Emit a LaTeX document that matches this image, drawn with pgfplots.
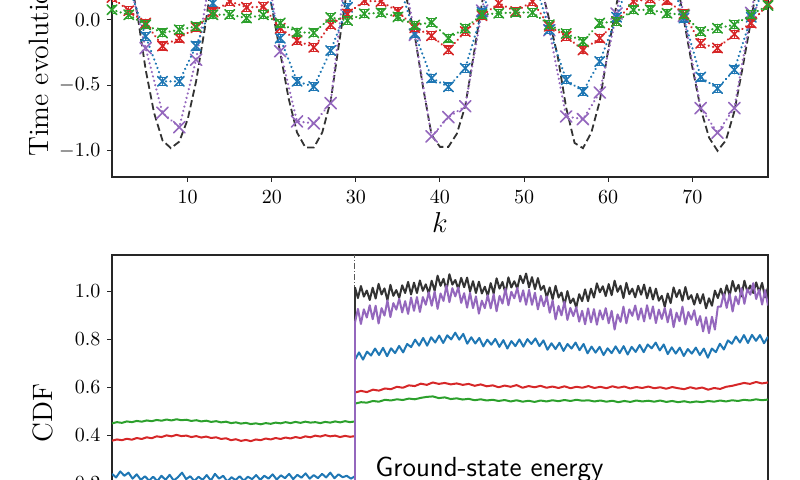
\documentclass[border=0pt]{standalone}
\usepackage{pgfplots}
\usepackage{pgfplotstable}
\pgfplotsset{compat=1.18}

\definecolor{tabblue}{HTML}{1F77B4}
\definecolor{tabred}{HTML}{D62728}
\definecolor{tabgreen}{HTML}{2CA02C}
\definecolor{tabpurple}{HTML}{9467BD}
\definecolor{exactgray}{HTML}{333333}

\pgfplotsset{
  panel/.style={
    scale only axis, width=328pt,
    tick align=outside, tick pos=left, major tick length=2.3pt,
    axis line style={line width=0.65pt, black!85},
    every tick/.style={black!85, line width=0.5pt},
    ticklabel style={font=\fontsize{9.8}{11}\selectfont, black},
    yticklabel style={/pgf/number format/.cd, fixed, fixed zerofill, precision=1},
  },
  tev/.style={line width=1.2pt, line cap=round, dash pattern=on 0.05pt off 2.2pt,
    mark=x, mark options={solid, line width=0.8pt}},
  tevbars/.style={error bars/.cd, y dir=both, y explicit,
    error bar style={solid, line width=0.6pt},
    error mark options={solid, rotate=90, mark size=2pt, line width=0.6pt}},
  cdf/.style={line width=1pt, line join=round},
}

\begin{document}
\begin{tikzpicture}
% ---------- time evolution: odd k, value, error ----------
\pgfplotstableread{
k y e
1 0.076 0.03
3 0.038 0.03
5 -0.038 0.03
7 -0.100 0.03
9 -0.076 0.03
11 -0.050 0.03
13 0.038 0.03
15 0.040 0.03
17 0.013 0.03
19 0.038 0.03
21 -0.025 0.03
23 -0.094 0.03
25 -0.100 0.03
27 0.018 0.03
29 -0.005 0.03
31 0.046 0.03
33 0.053 0.03
35 0.022 0.03
37 -0.040 0.03
39 -0.020 0.03
41 -0.140 0.03
43 -0.064 0.03
45 0.040 0.03
47 0.050 0.03
49 0.056 0.03
51 0.056 0.03
53 -0.038 0.03
55 -0.105 0.03
57 -0.165 0.03
59 -0.025 0.03
61 -0.013 0.03
63 0.076 0.03
65 0.076 0.03
67 0.050 0.03
69 0.038 0.03
71 -0.090 0.03
73 -0.064 0.03
75 -0.038 0.03
77 0.038 0.03
79 0.110 0.03
}\greenT
\pgfplotstableread{
k y e
1 0.170 0.03
3 0.070 0.03
5 -0.025 0.03
7 -0.200 0.03
9 -0.140 0.03
11 -0.060 0.03
13 0.060 0.03
15 0.140 0.03
17 0.095 0.03
19 0.100 0.03
21 -0.064 0.03
23 -0.158 0.03
25 -0.210 0.03
27 -0.038 0.03
29 0.045 0.03
31 0.145 0.03
33 0.140 0.03
35 0.064 0.03
37 -0.060 0.03
39 -0.122 0.03
41 -0.230 0.03
43 -0.090 0.03
45 0.030 0.03
47 0.127 0.03
49 0.064 0.03
51 0.140 0.03
53 -0.050 0.03
55 -0.127 0.03
57 -0.230 0.03
59 -0.140 0.03
61 -0.013 0.03
63 0.140 0.03
65 0.160 0.03
67 0.150 0.03
69 0.045 0.03
71 -0.180 0.03
73 -0.216 0.03
75 -0.110 0.03
77 -0.025 0.03
79 0.120 0.03
}\redT
\pgfplotstableread{
k y e
1 0.450 0.03
3 0.260 0.03
5 -0.127 0.03
7 -0.470 0.03
9 -0.470 0.03
11 -0.200 0.03
13 0.127 0.03
15 0.400 0.03
17 0.450 0.03
19 0.350 0.03
21 -0.140 0.03
23 -0.470 0.03
25 -0.510 0.03
27 -0.235 0.03
29 0.095 0.03
31 0.400 0.03
33 0.450 0.03
35 0.300 0.03
37 -0.105 0.03
39 -0.445 0.03
41 -0.512 0.03
43 -0.370 0.03
45 0.057 0.03
47 0.400 0.03
49 0.450 0.03
51 0.350 0.03
53 -0.076 0.03
55 -0.458 0.03
57 -0.547 0.03
59 -0.318 0.03
61 0.020 0.03
63 0.400 0.03
65 0.450 0.03
67 0.400 0.03
69 0.013 0.03
71 -0.437 0.03
73 -0.525 0.03
75 -0.382 0.03
77 0.020 0.03
79 0.300 0.03
}\blueT
\pgfplotstableread{
k y
1 0.800
3 0.310
5 -0.216
7 -0.710
9 -0.820
11 -0.305
13 0.450
15 0.850
17 0.900
19 0.600
21 -0.240
23 -0.776
25 -0.790
27 -0.636
29 0.490
31 0.850
33 0.950
35 0.600
37 -0.115
39 -0.890
41 -0.743
43 -0.660
45 0.070
47 0.750
49 0.950
51 0.750
53 -0.080
55 -0.738
57 -0.758
59 -0.555
61 0.048
63 0.750
65 0.950
67 0.700
69 0.030
71 -0.674
73 -0.862
75 -0.674
77 0.053
79 0.700
}\purpleT
\pgfplotstableread{
k y
1 0.90
2 0.68
3 0.36
4 0.05
5 -0.38
6 -0.71
7 -0.92
8 -0.98
9 -0.93
10 -0.76
11 -0.47
12 -0.08
13 0.35
14 0.68
15 0.91
16 1.00
17 0.94
18 0.74
19 0.45
20 0.10
21 -0.25
22 -0.60
23 -0.86
24 -0.975
25 -0.975
26 -0.86
27 -0.62
28 -0.18
29 0.25
30 0.60
31 0.86
32 0.99
33 0.97
34 0.81
35 0.55
36 0.17
37 -0.12
38 -0.52
39 -0.88
40 -0.97
41 -0.97
42 -0.87
43 -0.66
44 -0.27
45 0.13
46 0.50
47 0.81
48 0.97
49 0.99
50 0.86
51 0.60
52 0.26
53 0.00
54 -0.28
55 -0.67
56 -0.94
57 -0.98
58 -0.86
59 -0.62
60 -0.23
61 0.12
62 0.45
63 0.75
64 0.94
65 1.00
66 0.91
67 0.68
68 0.35
69 0.00
70 -0.36
71 -0.68
72 -0.90
73 -1.00
74 -0.92
75 -0.70
76 -0.36
77 0.00
78 0.38
79 0.70
}\exactT
% ---------- CDF: below the ground-state energy ----------
\pgfplotstableread[row sep=\\]{y\\
0.02\\0.04\\0.01\\0.03\\0.05\\0.02\\0.04\\0.01\\0.03\\0.02\\0.04\\0.03\\}\blackL
\pgfplotstableread[row sep=\\]{y\\
0.01\\0.03\\0.00\\0.02\\0.04\\0.01\\0.03\\0.00\\0.02\\0.01\\0.03\\0.02\\}\purpleL
\pgfplotstableread[row sep=\\]{y\\
0.240\\0.225\\0.250\\0.232\\0.245\\0.220\\0.238\\0.215\\0.230\\0.212\\
0.228\\0.210\\0.232\\0.215\\0.236\\0.212\\0.226\\0.245\\0.218\\0.230\\
0.210\\0.228\\0.215\\0.235\\0.212\\0.240\\0.220\\0.232\\0.208\\0.226\\
0.214\\0.230\\0.212\\0.228\\0.218\\0.235\\0.215\\0.232\\0.220\\0.238\\
0.216\\0.234\\0.222\\0.240\\0.218\\0.236\\0.224\\0.242\\0.220\\0.235\\
0.222\\0.240\\0.225\\0.245\\0.222\\0.238\\0.226\\0.232\\0.220\\0.230\\}\blueL
\pgfplotstableread[row sep=\\]{y\\
0.378\\0.383\\0.380\\0.386\\0.382\\0.389\\0.385\\0.392\\0.388\\0.396\\
0.393\\0.400\\0.396\\0.402\\0.397\\0.399\\0.393\\0.397\\0.391\\0.395\\
0.389\\0.392\\0.385\\0.388\\0.380\\0.384\\0.377\\0.381\\0.376\\0.383\\
0.380\\0.387\\0.383\\0.389\\0.385\\0.391\\0.387\\0.393\\0.389\\0.396\\
0.392\\0.399\\0.395\\0.401\\0.396\\0.399\\0.393\\0.398\\0.394\\0.397\\}\redL
\pgfplotstableread[row sep=\\]{y\\
0.450\\0.455\\0.452\\0.458\\0.455\\0.460\\0.457\\0.462\\0.459\\0.464\\
0.461\\0.466\\0.462\\0.467\\0.463\\0.465\\0.460\\0.463\\0.458\\0.461\\
0.456\\0.459\\0.454\\0.457\\0.451\\0.454\\0.449\\0.452\\0.447\\0.450\\
0.446\\0.451\\0.448\\0.453\\0.450\\0.455\\0.451\\0.456\\0.452\\0.457\\
0.453\\0.455\\0.451\\0.456\\0.453\\0.458\\0.454\\0.459\\0.455\\0.458\\}\greenL
% ---------- CDF: above the ground-state energy ----------
\pgfplotstableread[row sep=\\]{y\\
1.015\\0.971\\1.021\\0.977\\1.002\\0.963\\1.014\\0.969\\1.030\\0.986\\
1.011\\0.962\\1.026\\0.980\\1.004\\0.972\\1.024\\0.992\\1.038\\0.986\\
1.035\\0.992\\1.044\\1.001\\1.028\\0.990\\1.043\\1.001\\1.064\\1.022\\
1.051\\1.004\\1.070\\1.027\\1.046\\1.009\\1.055\\1.016\\1.056\\0.998\\
1.041\\0.992\\1.039\\0.990\\1.018\\0.980\\1.033\\0.990\\1.053\\1.010\\
1.038\\0.991\\1.057\\1.015\\1.041\\1.011\\1.064\\1.033\\1.073\\1.015\\
1.058\\1.008\\1.054\\1.005\\1.022\\0.973\\1.015\\0.966\\1.022\\0.973\\
0.994\\0.941\\1.000\\0.950\\0.969\\0.932\\0.987\\0.958\\1.007\\0.958\\
1.010\\0.973\\1.032\\0.995\\1.020\\0.979\\1.029\\0.983\\1.043\\0.997\\
1.022\\0.971\\1.034\\0.987\\1.010\\0.974\\1.022\\0.985\\1.027\\0.970\\
1.015\\0.965\\1.010\\0.960\\0.980\\0.935\\0.990\\0.950\\1.015\\0.975\\
1.005\\0.960\\1.017\\0.966\\0.983\\0.944\\0.988\\0.949\\0.987\\0.928\\
0.970\\0.939\\1.002\\0.971\\1.010\\0.972\\1.024\\0.980\\1.042\\0.999\\
1.026\\0.978\\1.043\\0.998\\1.023\\0.992\\1.036\\0.996\\1.034\\0.974\\
1.015\\}\blackR
\pgfplotstableread[row sep=\\]{y\\
0.870\\0.926\\0.863\\0.924\\0.890\\0.941\\0.883\\0.939\\0.865\\0.929\\
0.898\\0.961\\0.892\\0.950\\0.923\\0.968\\0.911\\0.958\\0.905\\0.973\\
0.918\\0.975\\0.913\\0.975\\0.943\\0.995\\0.939\\0.998\\0.926\\0.990\\
0.959\\1.023\\0.954\\1.012\\0.978\\1.015\\0.951\\0.991\\0.931\\0.993\\
0.929\\0.978\\0.906\\0.960\\0.929\\0.983\\0.928\\0.987\\0.916\\0.980\\
0.948\\1.010\\0.941\\0.997\\0.970\\1.013\\0.956\\1.003\\0.943\\1.005\\
0.943\\0.993\\0.924\\0.980\\0.937\\0.978\\0.910\\0.961\\0.882\\0.938\\
0.899\\0.956\\0.880\\0.930\\0.896\\0.933\\0.873\\0.918\\0.862\\0.928\\
0.870\\0.925\\0.860\\0.920\\0.882\\0.929\\0.866\\0.918\\0.840\\0.903\\
0.872\\0.935\\0.866\\0.924\\0.897\\0.940\\0.881\\0.928\\0.874\\0.941\\
0.885\\0.936\\0.867\\0.923\\0.884\\0.930\\0.870\\0.925\\0.850\\0.910\\
0.875\\0.935\\0.861\\0.913\\0.881\\0.920\\0.858\\0.896\\0.832\\0.891\\
0.825\\0.893\\0.840\\0.935\\0.935\\0.988\\0.930\\0.988\\0.915\\0.978\\
0.945\\1.012\\0.947\\1.008\\0.985\\1.033\\0.967\\1.006\\0.944\\1.004\\
0.940\\}\purpleR
\pgfplotstableread[row sep=\\]{y\\
0.715\\0.745\\0.715\\0.748\\0.732\\0.761\\0.734\\0.764\\0.729\\0.762\\
0.742\\0.772\\0.745\\0.780\\0.767\\0.798\\0.773\\0.805\\0.773\\0.808\\
0.786\\0.815\\0.784\\0.816\\0.799\\0.827\\0.798\\0.822\\0.781\\0.808\\
0.782\\0.805\\0.770\\0.798\\0.777\\0.801\\0.768\\0.796\\0.761\\0.792\\
0.771\\0.799\\0.769\\0.800\\0.780\\0.803\\0.771\\0.795\\0.756\\0.783\\
0.759\\0.785\\0.751\\0.780\\0.761\\0.786\\0.754\\0.780\\0.741\\0.769\\
0.744\\0.768\\0.734\\0.762\\0.742\\0.770\\0.742\\0.771\\0.736\\0.768\\
0.747\\0.776\\0.746\\0.778\\0.762\\0.786\\0.753\\0.778\\0.738\\0.766\\
0.740\\0.765\\0.730\\0.759\\0.740\\0.765\\0.734\\0.761\\0.723\\0.761\\
0.746\\0.781\\0.757\\0.795\\0.781\\0.811\\0.786\\0.817\\0.784\\0.818\\
0.793\\0.817\\0.783\\0.810\\}\blueR
\pgfplotstableread[row sep=\\]{y\\
0.578\\0.585\\0.580\\0.590\\0.586\\0.595\\0.592\\
0.602\\0.598\\0.608\\0.605\\0.615\\0.610\\
0.620\\0.614\\0.618\\0.612\\0.616\\0.610\\
0.614\\0.606\\0.612\\0.604\\0.608\\
0.600\\0.607\\0.602\\0.609\\0.598\\0.605\\0.600\\0.606\\0.598\\
0.603\\0.597\\0.604\\0.596\\0.602\\0.598\\0.605\\0.597\\
0.602\\0.596\\0.604\\0.598\\0.603\\0.595\\0.601\\0.597\\
0.603\\0.596\\0.600\\0.594\\0.601\\0.596\\
0.592\\0.600\\0.594\\0.599\\0.590\\0.597\\
0.593\\0.602\\0.606\\
0.612\\0.618\\0.614\\
0.622\\0.616\\0.620\\}\redR
\pgfplotstableread[row sep=\\]{y\\
0.532\\0.538\\0.536\\0.543\\0.540\\0.548\\0.545\\
0.550\\0.547\\0.553\\0.550\\0.556\\0.560\\
0.562\\0.555\\0.558\\0.551\\0.554\\0.549\\
0.552\\0.546\\0.550\\0.545\\0.548\\
0.543\\0.547\\0.541\\0.546\\0.540\\0.544\\0.539\\0.545\\0.541\\
0.546\\0.542\\0.547\\0.543\\0.548\\0.544\\0.546\\0.541\\
0.545\\0.540\\0.544\\0.538\\0.543\\0.539\\0.545\\0.541\\
0.544\\0.540\\0.545\\0.539\\0.543\\0.538\\
0.542\\0.537\\0.541\\0.538\\0.543\\0.540\\
0.545\\0.541\\0.546\\
0.543\\0.548\\0.545\\
0.550\\0.546\\0.549\\}\greenR

% upper panel: time evolution
\begin{axis}[panel, at={(56pt,-88.5pt)}, anchor=south west, height=157.2pt,
  xmin=1, xmax=79, ymin=-1.2, ymax=1.2, clip mode=individual,
  xtick={10,20,...,70}, ytick={-1,-0.5,0,0.5,1},
  xticklabel style={yshift=-1pt}]
  \addplot[exactgray, line width=0.9pt, dash pattern=on 3.6pt off 1.8pt] table[x=k, y=y] {\exactT};
  \addplot[tabpurple, tev, mark size=4pt] table[x=k, y=y] {\purpleT};
  \addplot[tabblue, tev, mark size=3.4pt, tevbars] table[x=k, y=y, y error=e] {\blueT};
  \addplot[tabred, tev, mark size=3.4pt, tevbars] table[x=k, y=y, y error=e] {\redT};
  \addplot[tabgreen, tev, mark size=3.4pt, tevbars] table[x=k, y=y, y error=e] {\greenT};
\end{axis}

% lower panel: cumulative distribution
\begin{axis}[panel, at={(56pt,-127.5pt)}, anchor=north west, height=144.3pt,
  xmin=0, xmax=656, ymin=-0.05, ymax=1.15,
  xtick=\empty, ytick={0,0.2,0.4,0.6,0.8,1.0}]
  \addplot[black!65, line width=0.5pt, dash pattern=on 3pt off 1pt on 0.5pt off 1pt] coordinates {(243,-0.05) (243,1.15)};
  \addplot[exactgray, cdf] table[x expr=\coordindex*22.09, y=y] {\blackL};
  \addplot[exactgray, cdf] table[x expr=243+\coordindex*2.95, y=y] {\blackR};
  \addplot[exactgray, cdf] coordinates {(243,0.03) (243,1.015)};
  \addplot[tabblue, cdf] table[x expr=\coordindex*4.1186, y=y] {\blueL};
  \addplot[tabblue, cdf] table[x expr=243+\coordindex*4.0097, y=y] {\blueR};
  \addplot[tabblue, cdf] coordinates {(243,0.230) (243,0.715)};
  \addplot[tabred, cdf] table[x expr=\coordindex*4.959, y=y] {\redL};
  \addplot[tabred, cdf] table[x expr=243+\coordindex*5.9855, y=y] {\redR};
  \addplot[tabred, cdf] coordinates {(243,0.397) (243,0.578)};
  \addplot[tabgreen, cdf] table[x expr=\coordindex*4.959, y=y] {\greenL};
  \addplot[tabgreen, cdf] table[x expr=243+\coordindex*5.9855, y=y] {\greenR};
  \addplot[tabgreen, cdf] coordinates {(243,0.458) (243,0.532)};
  \addplot[tabpurple, cdf] table[x expr=\coordindex*22.09, y=y] {\purpleL};
  \addplot[tabpurple, cdf] table[x expr=243+\coordindex*2.95, y=y] {\purpleR};
  \addplot[tabpurple, cdf] coordinates {(243,0.02) (243,0.870)};
\end{axis}

% axis labels and annotation
\node[anchor=base, inner sep=0pt, font=\fontsize{14.5}{16}\selectfont] at (220pt,-116.5pt) {$k$};
\node[rotate=90, anchor=base west, inner sep=0pt, font=\fontsize{14}{16}\selectfont] at (24pt,-78.5pt) {Time evolution};
\node[rotate=90, anchor=base, inner sep=0pt, font=\fontsize{14}{16}\selectfont] at (26.5pt,-206.5pt) {CDF};
\node[anchor=base west, inner sep=0pt, font=\sffamily\fontsize{13.8}{15}\selectfont] at (187.5pt,-238.5pt) {Ground-state energy};

\pgfresetboundingbox
\path[use as bounding box] (0pt,0pt) rectangle (400pt,-240pt);
\end{tikzpicture}
\end{document}
